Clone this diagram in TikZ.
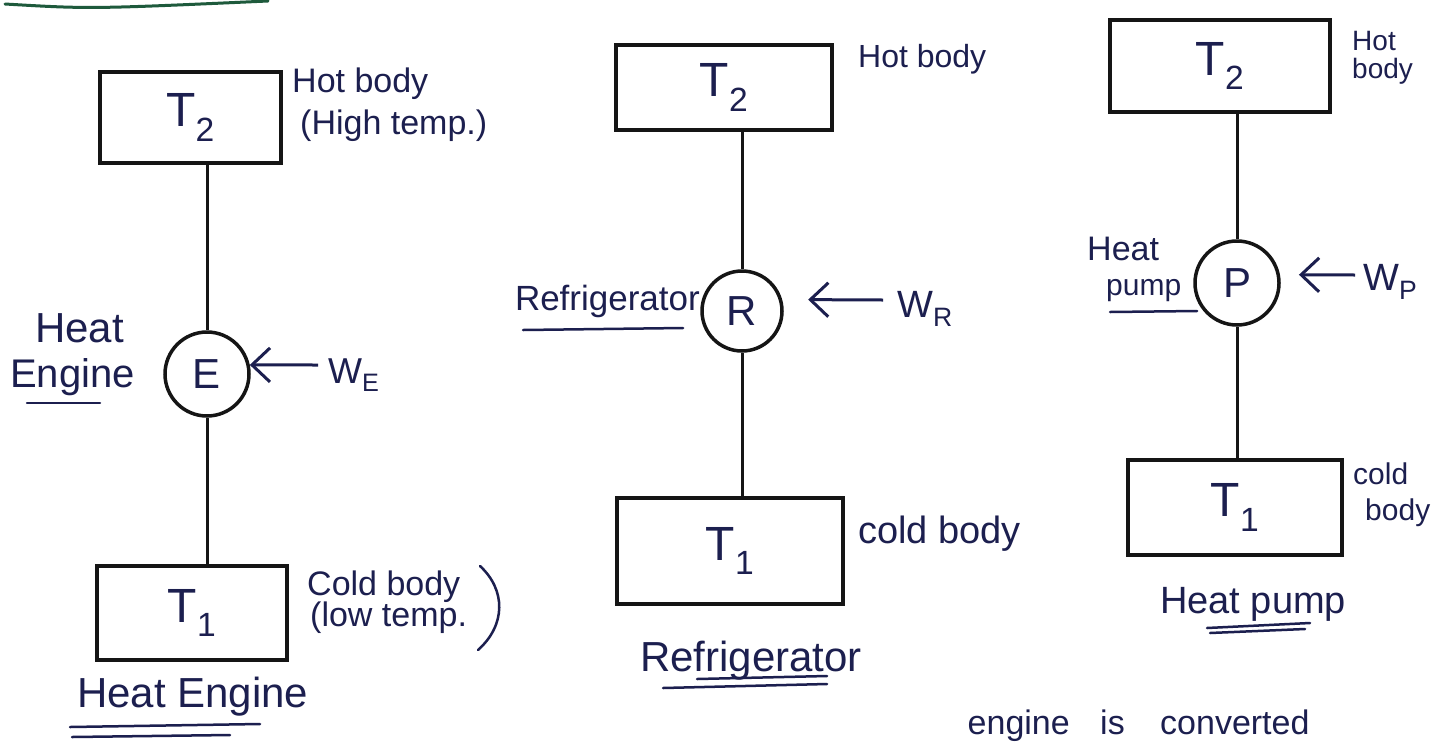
\documentclass[tikz,border=0pt]{standalone}
\usepackage{fontspec}
\setmainfont{Liberation Sans}
\usetikzlibrary{arrows.meta}
\definecolor{ink}{HTML}{1C1F4F}
\definecolor{penblack}{HTML}{151515}
\definecolor{topgreen}{HTML}{1E5A3C}
\begin{document}
\begin{tikzpicture}[x=1pt,y=-1pt,
  reservoir/.style={draw=penblack,line width=3.5pt,rectangle,inner sep=0pt,text=ink,font=\fontsize{48}{52}\selectfont},
  machine/.style={draw=penblack,line width=3.5pt,circle,inner sep=0pt,minimum size=#1,text=ink,font=\fontsize{42}{46}\selectfont},
  lbl/.style={text=ink,inner sep=0pt,font=\fontsize{#1}{#1}\selectfont},
  link/.style={draw=penblack,line width=3pt},
  work/.style={draw=ink,line width=3pt,-{Straight Barb[length=18pt,width=34pt]}},
  uline/.style={draw=ink,line width=2.5pt,line cap=round}]
\useasboundingbox (0,0) rectangle (1456,745);
\clip (0,0) rectangle (1456,745);
\fill[white] (0,0) rectangle (1456,745);
% top green rule
\draw[topgreen,line width=3pt,line cap=round] (5,4) .. controls (90,9) .. (268,1);

% ---------------- Heat engine ----------------
\node[reservoir,minimum width=181pt,minimum height=91pt] (hotE) at (190.5,117.5) {T\textsubscript{2}};
\node[machine=84pt] (E) at (207,374) {E};
\node[reservoir,minimum width=190pt,minimum height=94pt] (coldE) at (192,613) {T\textsubscript{1}};
\draw[link] (E.north |- hotE.south) -- (E.north);
\draw[link] (E.south) -- (E.south |- coldE.north);
\node[lbl=36,anchor=base west] (WE) at (328,383) {W\textsubscript{E}};
\coordinate (WEs) at (318,365);
\draw[work] (WEs) -- (E.12);
\node[lbl=42,anchor=base west] (heatE) at (35,342) {Heat};
\node[lbl=40,anchor=base west] (engE) at (10,387) {Engine};
\draw[uline] (27,403) -- (100,403);
\node[lbl=34,anchor=base west] (hotElbl) at (292,92) {Hot body};
\node[lbl=34,anchor=base west] (hotEsub) at (300,134) {(High temp.)};
\node[lbl=34,anchor=base west] (coldElbl) at (307,595) {Cold body};
\node[lbl=34,anchor=base west] (coldEsub) at (310,626) {(low temp.};
\draw[ink,line width=2.5pt,line cap=round] (480,566) .. controls (506,590) and (506,625) .. (478,650);
\node[lbl=42,anchor=base west] (titleE) at (77,707) {Heat Engine};
\draw[uline] (70,727) -- (260,724);
\draw[uline] (72,737) -- (230,735);

% ---------------- Refrigerator ----------------
\node[reservoir,minimum width=216pt,minimum height=85pt] (hotR) at (724,87.5) {T\textsubscript{2}};
\node[machine=80pt] (R) at (742,311) {R};
\node[reservoir,minimum width=226pt,minimum height=106pt] (coldR) at (730,551) {T\textsubscript{1}};
\draw[link] (R.north |- hotR.south) -- (R.north);
\draw[link] (R.south) -- (R.south |- coldR.north);
\node[lbl=38,anchor=base west] (WR) at (897,317) {W\textsubscript{R}};
\coordinate (WRs) at (883,300);
\draw[work,shorten >=26pt] (WRs) -- (R.16);
\node[lbl=35,anchor=base east] (refR) at (700,310) {Refrigerator};
\draw[uline] (523,330) -- (683,328);
\node[lbl=32,anchor=base west] (hotRlbl) at (858,67) {Hot body};
\node[lbl=38,anchor=base west] (coldRlbl) at (858,543) {cold body};
\node[lbl=42,anchor=base west] (titleR) at (640,671) {Refrigerator};
\draw[uline] (663,688) -- (827,684);
\draw[uline] (697,679) -- (827,676);

% ---------------- Heat pump ----------------
\node[reservoir,minimum width=220pt,minimum height=92pt] (hotP) at (1220,66) {T\textsubscript{2}};
\node[machine=84pt] (P) at (1237,283) {P};
\node[reservoir,minimum width=214pt,minimum height=95pt] (coldP) at (1235,507.5) {T\textsubscript{1}};
\draw[link] (P.north |- hotP.south) -- (P.north);
\draw[link] (P.south) -- (P.south |- coldP.north);
\node[lbl=38,anchor=base west] (WP) at (1363,290) {W\textsubscript{P}};
\coordinate (WPs) at (1355,275);
\draw[work,shorten >=19pt] (WPs) -- (P.11);
\node[lbl=34,anchor=base west] (heatP) at (1087,260) {Heat};
\node[lbl=30,anchor=base west] (pumpP) at (1106,295) {pump};
\draw[uline] (1110,312) -- (1197,311);
\node[lbl=28,anchor=base west] (hotPa) at (1352,50) {Hot};
\node[lbl=28,anchor=base west] (hotPb) at (1352,78) {body};
\node[lbl=30,anchor=base west] (coldPa) at (1353,484) {cold};
\node[lbl=30,anchor=base west] (coldPb) at (1365,520) {body};
\node[lbl=38,anchor=base west] (titleP) at (1160,613) {Heat pump};
\draw[uline] (1207,628) -- (1310,623);
\draw[uline] (1210,633) -- (1305,629);

% line of text at the bottom edge
\node[lbl=34,anchor=base east] (txtA) at (1070,734) {engine};
\node[lbl=34,anchor=base west] (txtB) at (1100,734) {is};
\node[lbl=34,anchor=base west] (txtC) at (1160,734) {converted};
\end{tikzpicture}
\end{document}
